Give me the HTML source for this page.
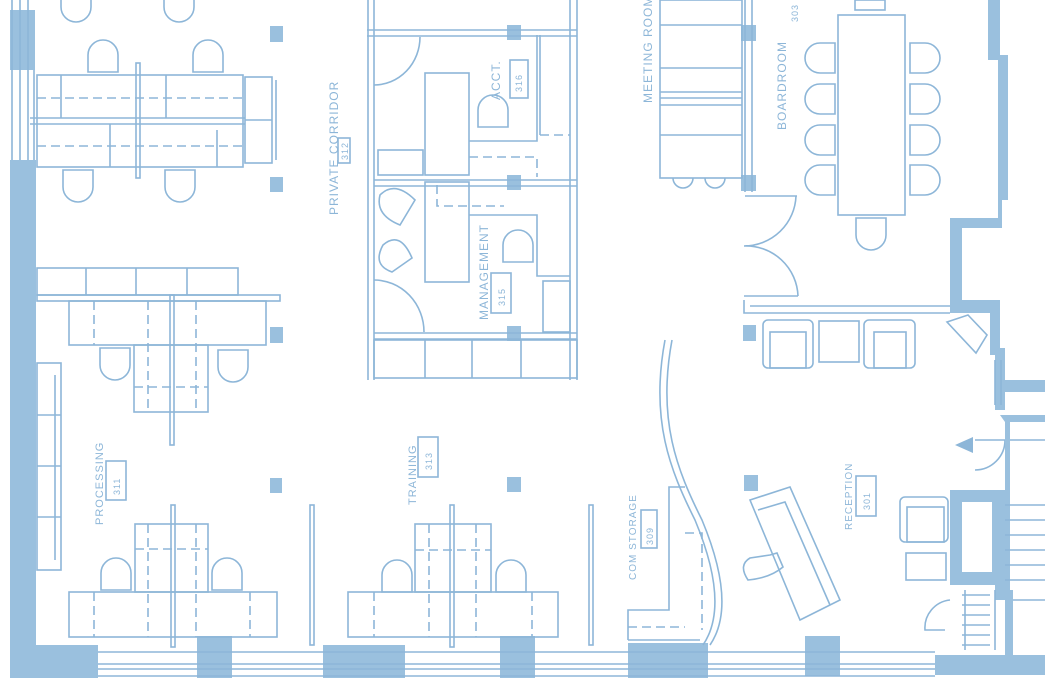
<!DOCTYPE html>
<html><head><meta charset="utf-8"><style>
html,body{margin:0;padding:0;background:#fff;}
svg{display:block}
.s{fill:none;stroke:#8db6d8;stroke-width:1.6}
.d{fill:none;stroke:#8db6d8;stroke-width:1.6;stroke-dasharray:9 5}
.f{fill:#9ac0de;stroke:none}
.t{font-family:"Liberation Sans",sans-serif;fill:#8db6d8;font-size:12px;letter-spacing:1px}
</style></head><body>
<svg width="1045" height="686" viewBox="0 0 1045 686" xmlns="http://www.w3.org/2000/svg">
<defs>
<path id="cu" d="M0 32 V15 A15 15 0 0 1 30 15 V32 Z"/>
<path id="cd" d="M0 0 V17 A15 15 0 0 0 30 17 V0 Z"/>
<path id="cl" d="M30 0 H15 A15 15 0 0 0 15 30 H30 Z"/>
<path id="cr" d="M0 0 H15 A15 15 0 0 1 15 30 H0 Z"/>
</defs>
<!-- left wall -->
<rect class="f" x="10" y="160" width="26" height="500"/>
<rect class="f" x="10" y="10" width="25" height="60"/>
<path class="s" d="M12 0V160 M20 0V160 M28 0V160 M34 70V160"/>
<!-- bottom wall -->
<rect class="f" x="10" y="645" width="88" height="33"/>
<rect class="f" x="197" y="636" width="35" height="42"/>
<rect class="f" x="323" y="645" width="82" height="33"/>
<rect class="f" x="500" y="636" width="35" height="42"/>
<rect class="f" x="628" y="643" width="80" height="35"/>
<rect class="f" x="805" y="636" width="35" height="40"/>
<rect class="f" x="935" y="655" width="110" height="20"/>
<path class="s" d="M98 652H935 M98 664H935 M98 669H935 M98 676H935"/>
<!-- columns -->
<g class="f">
<rect x="270" y="26" width="13" height="16"/><rect x="270" y="177" width="13" height="15"/>
<rect x="270" y="327" width="13" height="16"/><rect x="270" y="478" width="12" height="15"/>
<rect x="507" y="25" width="14" height="15"/><rect x="507" y="175" width="14" height="15"/>
<rect x="507" y="326" width="14" height="15"/><rect x="507" y="477" width="14" height="15"/>
<rect x="741" y="25" width="15" height="16"/><rect x="741" y="175" width="15" height="16"/>
<rect x="743" y="325" width="13" height="16"/><rect x="744" y="475" width="14" height="16"/>
</g>
<!-- top-left workstation -->
<g class="s">
<rect x="37" y="75" width="206" height="92"/>
<path d="M30 118H245 M30 124H245 M61 75V118 M166 75V118 M110 124V167 M217 130V167"/>
<rect x="136" y="63" width="4" height="115"/>
<rect x="245" y="77" width="27" height="86"/><path d="M245 120H272 M276 80V160"/>
<use href="#cu" x="88" y="40"/><use href="#cu" x="193" y="40"/>
<use href="#cd" x="61" y="-10"/><use href="#cd" x="164" y="-10"/>
<use href="#cd" x="63" y="170"/><use href="#cd" x="165" y="170"/>
</g>
<path class="d" d="M37 98H243 M37 146H243"/>
<!-- middle-left workstation -->
<g class="s">
<rect x="37" y="268" width="201" height="27"/><path d="M86 268V295 M136 268V295 M187 268V295"/>
<rect x="37" y="295" width="243" height="6"/>
<rect x="69" y="301" width="197" height="44"/>
<rect x="134" y="345" width="74" height="67"/>
<rect x="170" y="295" width="4" height="150"/>
<use href="#cd" x="100" y="348"/><use href="#cd" x="218" y="350"/>
<rect x="37" y="363" width="24" height="207"/><path d="M37 415H61 M37 466H61 M37 517H61 M55 375V560"/>
</g>
<path class="d" d="M94 301V345 M148 301V412 M196 301V412 M134 387H208"/>
<!-- bottom workstations -->
<g class="s">
<rect x="69" y="592" width="208" height="45"/><rect x="135" y="524" width="73" height="68"/>
<rect x="171" y="505" width="4" height="142"/>
<use href="#cu" x="101" y="558"/><use href="#cu" x="212" y="558"/>
<rect x="310" y="505" width="4" height="140"/>
<rect x="348" y="592" width="210" height="45"/><rect x="415" y="524" width="76" height="68"/>
<rect x="450" y="505" width="4" height="142"/>
<use href="#cu" x="382" y="560"/><use href="#cu" x="496" y="560"/>
<rect x="589" y="505" width="4" height="140"/>
</g>
<path class="d" d="M94 592V637 M148 524V637 M196 524V637 M250 592V637 M135 549H208 M374 592V637 M429 524V637 M476 524V637 M532 592V637 M415 550H491"/>
<!-- center rooms -->
<g class="s">
<path d="M368 0V380 M374 0V380 M367 30H577 M367 36H577 M374 180H577 M374 186H577 M374 333H577 M374 339H577 M570 0V380 M577 0V380"/>
<path d="M374 85A46 48 0 0 0 420 37 M374 85H378"/>
<path d="M374 280A50 52 0 0 1 424 332"/>
<rect x="425" y="73" width="44" height="102"/>
<path d="M469 141H537V35 M540 35V135"/>
<use href="#cu" x="478" y="95"/>
<rect x="378" y="150" width="45" height="25"/>
<rect x="425" y="182" width="44" height="100"/>
<path d="M469 215H537V276H570"/>
<use href="#cu" x="503" y="230"/>
<rect x="543" y="281" width="27" height="51"/>
<path d="M380 195 Q395 180 415 200 L400 225 Q375 215 380 195Z M383 245 Q400 230 412 258 L392 272 Q372 265 383 245Z"/>
<rect x="374" y="340" width="203" height="38"/><path d="M425 340V378 M472 340V378 M521 340V378"/>
<rect x="510" y="60" width="18" height="38"/><rect x="491" y="273" width="20" height="40"/>
</g>
<path class="d" d="M540 135H570 M469 157H537V177 M437 185V206H504"/>
<!-- meeting room -->
<g class="s">
<rect x="660" y="0" width="82" height="178"/>
<path d="M660 25H742 M660 68H742 M660 92H742 M660 98H742 M660 105H742 M660 135H742 M745 0V192 M752 0V192"/>
<path d="M673 178A10 10 0 0 0 693 178 M705 178A10 10 0 0 0 725 178"/>
</g>
<!-- boardroom -->
<g class="s">
<rect x="838" y="15" width="67" height="200"/>
<use href="#cl" x="805" y="43"/><use href="#cl" x="805" y="84"/><use href="#cl" x="805" y="125"/><use href="#cl" x="805" y="165"/>
<use href="#cr" x="910" y="43"/><use href="#cr" x="910" y="84"/><use href="#cr" x="910" y="125"/><use href="#cr" x="910" y="165"/>
<use href="#cd" x="856" y="218"/>
<rect x="855" y="0" width="30" height="10"/>
<path d="M745 196H797 M744 246A52 52 0 0 0 796 196 M744 246A52 52 0 0 1 798 296 M744 296H798 M744 300V313H950 M750 306H950"/>
<rect x="763" y="320" width="50" height="48" rx="5"/><rect x="770" y="332" width="36" height="36"/>
<rect x="819" y="321" width="40" height="41"/>
<rect x="864" y="320" width="51" height="48" rx="5"/><rect x="874" y="332" width="32" height="36"/>
<path d="M947 322L968 315 987 335 976 353Z"/>
</g>
<!-- right wall -->
<path class="f" d="M988 0H1000V55H1008V200H1002V228H962V300H1000V348H1005V380H1045V392H1005V410H995V355H990V313H950V218H998V60H988Z"/>
<path class="f" d="M1000 415H1045V422H1005Z"/>
<path class="s" d="M995 360V405 M1001 360V405"/>
<!-- curved wall -->
<path class="s" d="M665 340C650 420 670 470 695 520C720 580 720 620 703 645 M672 340C657 420 677 470 702 520C727 580 727 620 710 645"/>
<!-- storage -->
<g class="s"><path d="M628 640V610H669V487H685 M628 640H700"/></g>
<path class="d" d="M685 533H702V630 M628 627H685"/>
<!-- reception -->
<g class="s">
<path d="M750 500L790 487 840 600 800 620Z M758 510L785 502 830 605"/>
<path d="M770 555L777 553 783 567Q770 578 748 580Q738 565 750 558Z"/>
<rect x="900" y="497" width="48" height="45" rx="5"/><rect x="907" y="507" width="37" height="35"/>
<rect x="906" y="553" width="40" height="27"/>
<path d="M975 440H1045 M975 470A30 30 0 0 0 1005 440"/>
</g>
<path d="M955 445L973 437V453Z" fill="#8db6d8"/>
<!-- stairs -->
<path class="f" d="M950 490H1005V415H1010V600H995V585H950Z"/>
<rect x="962" y="502" width="30" height="70" fill="#fff"/>
<path class="s" d="M1005 505H1045 M1005 520H1045 M1005 535H1045 M1005 550H1045 M1005 565H1045 M1005 580H1045 M1005 600H1045 M965 590V650 M995 590V650 M962 595H990 M962 605H990 M962 615H990 M962 625H990 M962 635H990 M962 645H990 M945 630H925A28 28 0 0 1 950 600"/>
<rect class="f" x="1005" y="590" width="8" height="65"/>
<!-- labels -->
<g class="t">
<text transform="translate(338,215) rotate(-90)">PRIVATE CORRIDOR</text>
<rect x="338" y="138" width="12" height="25" class="s"/><text transform="translate(348,160) rotate(-90)" font-size="9">312</text>
<text transform="translate(500,100) rotate(-90)">ACCT.</text>
<text transform="translate(522,92) rotate(-90)" font-size="9">316</text>
<text transform="translate(488,320) rotate(-90)">MANAGEMENT</text>
<text transform="translate(505,306) rotate(-90)" font-size="9">315</text>
<text transform="translate(652,103) rotate(-90)">MEETING ROOM</text>
<text transform="translate(786,130) rotate(-90)">BOARDROOM</text>
<text transform="translate(798,22) rotate(-90)" font-size="9">303</text>
<text transform="translate(103,525) rotate(-90)" font-size="11">PROCESSING</text>
<rect x="106" y="461" width="20" height="39" class="s"/>
<text transform="translate(120,495) rotate(-90)" font-size="9">311</text>
<text transform="translate(416,505) rotate(-90)" font-size="11">TRAINING</text>
<rect x="418" y="437" width="20" height="40" class="s"/>
<text transform="translate(432,470) rotate(-90)" font-size="9">313</text>
<text transform="translate(636,580) rotate(-90)" font-size="10">COM STORAGE</text>
<rect x="641" y="510" width="16" height="38" class="s"/>
<text transform="translate(653,545) rotate(-90)" font-size="9">309</text>
<text transform="translate(852,530) rotate(-90)" font-size="10">RECEPTION</text>
<rect x="856" y="476" width="20" height="40" class="s"/>
<text transform="translate(870,510) rotate(-90)" font-size="9">301</text>
</g>
</svg>
</body></html>
